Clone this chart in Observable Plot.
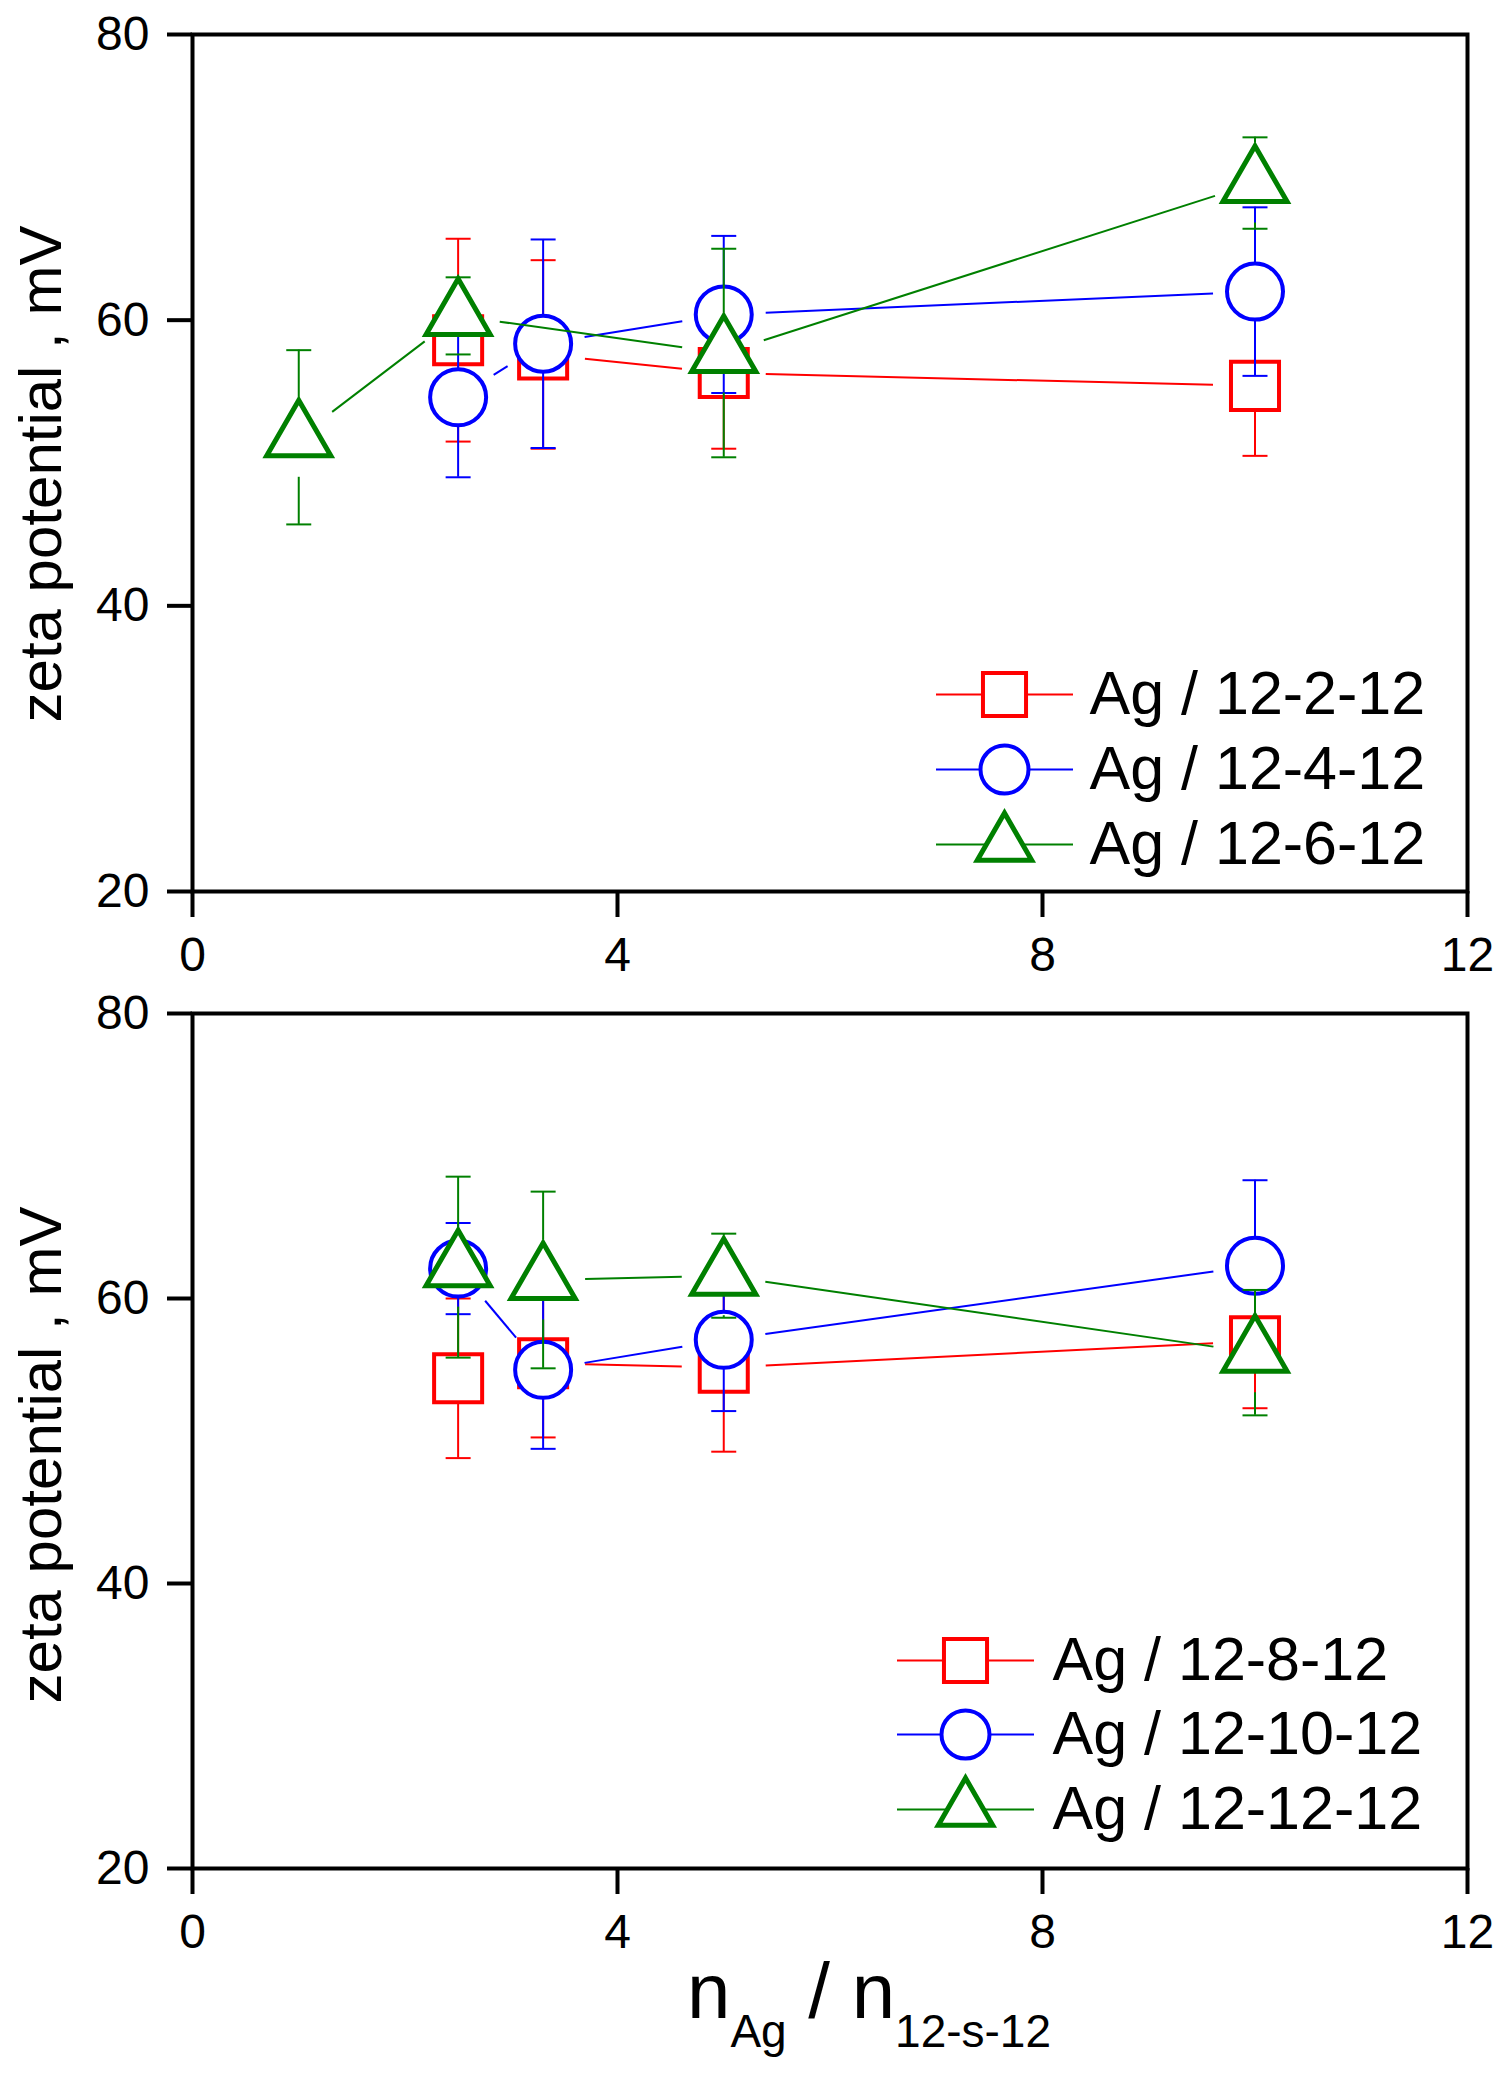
<!DOCTYPE html>
<html>
<head>
<meta charset="utf-8">
<script src="https://cdn.jsdelivr.net/npm/d3@7"></script>
<script src="https://cdn.jsdelivr.net/npm/@observablehq/plot@0.6"></script>
<style>
  body { margin: 0; background: #fff; }
  #wrap { position: relative; width: 1510px; height: 2077px; font-family: "Liberation Sans", Arial, sans-serif; color: #000; }
  #wrap svg { display: block; }
  #xlabel { position: absolute; left: 687px; top: 1952px; font-size: 78px; line-height: 78px; white-space: nowrap; color: #000; }
  #xlabel .sub { font-size: 46px; position: relative; top: 29px; }
</style>
</head>
<body>
<div id="wrap">
  <div id="top"></div>
  <div id="bottom"></div>
  <div id="xlabel">n<span class="sub">Ag</span> / n<span class="sub">12-s-12</span></div>
</div>
<script>
// ---------- data ----------
const xTicks = [0, 4, 8, 12];
const yTicks = [20, 40, 60, 80];
const yLabel = "zeta potential , mV";

// top panel
const labelsTop = ["Ag / 12-2-12", "Ag / 12-4-12", "Ag / 12-6-12"];
const x_12_2_12 = [2.5, 3.3, 5, 10];
const y_12_2_12 = [58.6, 57.6, 56.3, 55.4];
const e_12_2_12 = [7.1, 6.6, 5.3, 4.9];
const x_12_4_12 = [2.5, 3.3, 5, 10];
const y_12_4_12 = [54.6, 58.35, 60.4, 62.0];
const e_12_4_12 = [5.6, 7.3, 5.5, 5.9];
const x_12_6_12 = [1, 2.5, 5, 10];
const y_12_6_12 = [51.8, 60.3, 57.7, 69.6];
const e_12_6_12 = [6.1, 2.7, 7.3, 3.2];

// bottom panel
const labelsBottom = ["Ag / 12-8-12", "Ag / 12-10-12", "Ag / 12-12-12"];
const x_12_8_12 = [2.5, 3.3, 5, 10];
const y_12_8_12 = [54.4, 55.45, 55.15, 57.0];
const e_12_8_12 = [5.6, 5.2, 5.9, 4.7];
const x_12_10_12 = [2.5, 3.3, 5, 10];
const y_12_10_12 = [62.1, 55.0, 57.1, 62.3];
const e_12_10_12 = [3.2, 5.55, 5.0, 6.0];
const x_12_12_12 = [2.5, 3.3, 5, 10];
const y_12_12_12 = [62.2, 61.3, 61.6, 56.2];
const e_12_12_12 = [6.35, 6.2, 2.95, 4.4];

// ---------- styles ----------
const RED = "#ff0000", BLUE = "#0000ff", GREEN = "#008000";
const styleSquare = {symbol: "square", r: 27.1, r2: 24.3, sw: 4, gap: 0};
const styleCircle = {symbol: "circle", r: 28, r2: 24, sw: 4, gap: 0};
const styleTriangle = {symbol: "triangle", r: 23.8, r2: 20.2, sw: 5, gap: 40};
const FONT = "'Liberation Sans', Arial, sans-serif";
const LINE_GAP = 42;

const hline = (w) => ({draw(ctx) { ctx.moveTo(-w / 2, 0); ctx.lineTo(w / 2, 0); }});

function buildPanel({series, height, marginTop, marginBottom, legend, yLabelDy}) {
  const W = 1510, ML = 192, MR = 43;
  const kx = (W - ML - MR) / 12;
  const ky = (height - marginTop - marginBottom) / 60;
  const marks = [];
  series.forEach((s, si) => {
    const pts = s.x.map((x, i) => ({x, y: s.y[i], e: s.e[i]}));
    // connecting line with gaps around the symbols
    const segs = [];
    for (let i = 0; i < pts.length - 1; i++) {
      const a = pts[i], b = pts[i + 1];
      const L = Math.hypot((b.x - a.x) * kx, (b.y - a.y) * ky);
      if (L <= 2 * LINE_GAP + 4) continue;
      const t = LINE_GAP / L;
      segs.push({
        x1: a.x + (b.x - a.x) * t, y1: a.y + (b.y - a.y) * t,
        x2: b.x - (b.x - a.x) * t, y2: b.y - (b.y - a.y) * t
      });
    }
    marks.push(Plot.link(segs, {x1: "x1", y1: "y1", x2: "x2", y2: "y2", stroke: s.color, strokeWidth: 2}));
    // error bars
    const g = s.st.gap / ky;
    const rules = [];
    for (const p of pts) {
      if (p.e > g) {
        rules.push({x: p.x, y1: p.y + g, y2: p.y + p.e});
        rules.push({x: p.x, y1: p.y - p.e, y2: p.y - g});
      }
    }
    marks.push(Plot.ruleX(rules, {x: "x", y1: "y1", y2: "y2", stroke: s.color, strokeWidth: 2}));
    const caps = pts.flatMap(p => [{x: p.x, y: p.y + p.e}, {x: p.x, y: p.y - p.e}]);
    marks.push(Plot.dot(caps, {x: "x", y: "y", symbol: hline(25), stroke: s.color, strokeWidth: 2, fill: "none"}));
    // symbols
    marks.push(Plot.dot(pts, {x: "x", y: "y", symbol: s.st.symbol, r: s.st.r, stroke: s.color, strokeWidth: s.st.sw, fill: "white"}));
  });
  // legend
  series.forEach((s, si) => {
    const dy = legend.dy[si];
    marks.push(Plot.dot([s.label], {x: null, y: null, frameAnchor: "bottom-right", dx: legend.markerDx, dy,
      symbol: hline(137), stroke: s.color, strokeWidth: 2, fill: "none"}));
    marks.push(Plot.dot([s.label], {x: null, y: null, frameAnchor: "bottom-right", dx: legend.markerDx, dy,
      symbol: s.st.symbol, r: s.st.r2, stroke: s.color, strokeWidth: s.st.sw, fill: "white"}));
    marks.push(Plot.text([s.label], {x: null, y: null, text: d => d, frameAnchor: "bottom-right", dx: legend.textDx, dy,
      textAnchor: "start", lineAnchor: "middle", fontSize: 61, fill: "black"}));
  });
  // y label
  marks.push(Plot.text([yLabel], {x: null, y: null, text: d => d, frameAnchor: "left", rotate: -90, dx: -132, dy: yLabelDy,
    textAnchor: "middle", lineAnchor: "bottom", fontSize: 60, fill: "black"}));
  // axes and frame
  marks.push(Plot.axisX({ticks: xTicks, tickSize: 26, tickPadding: 19, fontSize: 48, strokeWidth: 4, label: null, tickFormat: d => String(d), fill: "black", stroke: "black"}));
  marks.push(Plot.axisY({ticks: yTicks, tickSize: 25, tickPadding: 18, fontSize: 48, strokeWidth: 4, label: null, tickFormat: d => String(d), fill: "black", stroke: "black"}));
  marks.push(Plot.frame({stroke: "black", strokeWidth: 4}));

  return Plot.plot({
    width: W, height, marginTop, marginBottom, marginLeft: ML, marginRight: MR,
    x: {domain: [0, 12], type: "linear"},
    y: {domain: [20, 80], type: "linear"},
    style: {fontFamily: FONT, background: "white", color: "black", overflow: "visible"},
    marks
  });
}

const topSeries = [
  {label: labelsTop[0], x: x_12_2_12, y: y_12_2_12, e: e_12_2_12, color: RED, st: styleSquare},
  {label: labelsTop[1], x: x_12_4_12, y: y_12_4_12, e: e_12_4_12, color: BLUE, st: styleCircle},
  {label: labelsTop[2], x: x_12_6_12, y: y_12_6_12, e: e_12_6_12, color: GREEN, st: styleTriangle}
];
const bottomSeries = [
  {label: labelsBottom[0], x: x_12_8_12, y: y_12_8_12, e: e_12_8_12, color: RED, st: styleSquare},
  {label: labelsBottom[1], x: x_12_10_12, y: y_12_10_12, e: e_12_10_12, color: BLUE, st: styleCircle},
  {label: labelsBottom[2], x: x_12_12_12, y: y_12_12_12, e: e_12_12_12, color: GREEN, st: styleTriangle}
];

document.getElementById("top").appendChild(buildPanel({
  series: topSeries, height: 1000, marginTop: 34, marginBottom: 109, yLabelDy: 11,
  legend: {markerDx: -463, textDx: -378, dy: [-197, -122, -47]}
}));
document.getElementById("bottom").appendChild(buildPanel({
  series: bottomSeries, height: 960, marginTop: 13, marginBottom: 92, yLabelDy: 14,
  legend: {markerDx: -502, textDx: -415, dy: [-208, -134, -59]}
}));
</script>
</body>
</html>
